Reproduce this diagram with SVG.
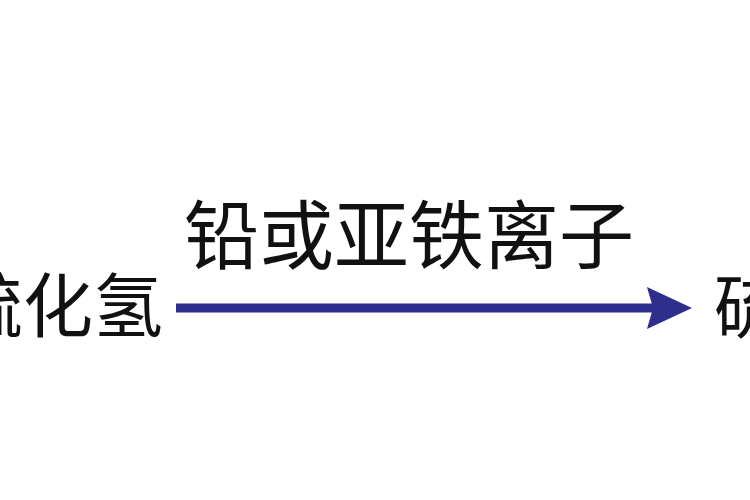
<svg xmlns="http://www.w3.org/2000/svg" width="750" height="500" viewBox="0 0 750 500">
<style>
.t{font-family:"Noto Sans CJK SC","Noto Sans",sans-serif;fill:#111}
.edge{stroke:#2e2e8c;stroke-width:9;fill:none}
</style>
<defs>
<marker id="ah" markerUnits="userSpaceOnUse" markerWidth="50" markerHeight="44" refX="45" refY="21" orient="auto">
<path d="M0,0 L45,21 L0,42 L5,21 Z" fill="#2e2e8c"/>
</marker>
</defs>
<rect width="750" height="500" fill="#ffffff"/>
<g id="node-h2s"><text class="t" x="-47" y="332" font-size="70">硫化氢</text></g>
<g id="node-sulfide"><text class="t" x="714" y="333" font-size="70">硫</text></g>
<g id="connectors">
<line class="edge" x1="176" y1="308" x2="655" y2="308"/>
<path d="M647,287 L692,308 L647,329 L653,308 Z" fill="#2e2e8c"/>
<text class="t" x="184" y="263" font-size="75">铅或亚铁离子</text>
</g>
</svg>
